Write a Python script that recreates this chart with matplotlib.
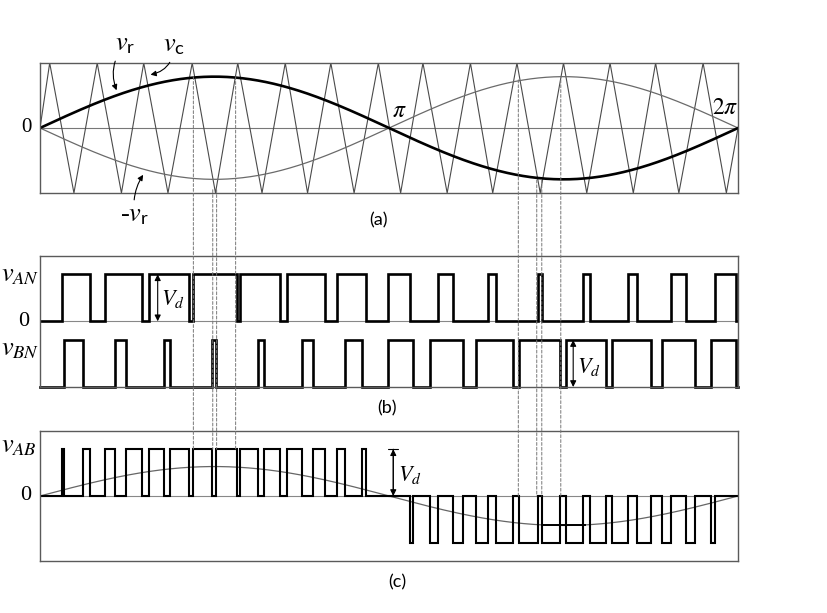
import numpy as np
import matplotlib
matplotlib.use('Agg')
import matplotlib.pyplot as plt
from matplotlib.patches import ConnectionPatch

plt.rcParams['mathtext.fontset'] = 'custom'
plt.rcParams['mathtext.rm'] = 'STIXGeneral'
plt.rcParams['mathtext.it'] = 'STIXGeneral:italic'
plt.rcParams['mathtext.sf'] = 'Lato'
plt.rcParams['font.family'] = ['Liberation Serif', 'DejaVu Sans']

# values, angles in degrees (0..360 = 0..2pi)
m_a = 0.79          # peak of v_r against the carrier peak, panel (a)
m_c = 0.63          # peak of the fundamental against Vd, panel (c)

carrier_peaks = [5, 29.5, 53.5, 78.5, 102, 126.5, 150, 174.5, 197.5, 222,
                 246, 270, 294, 317.5, 342]
carrier_valleys = [17.5, 42, 66, 90.5, 114.5, 138, 162, 186, 210, 233.5,
                   258, 282, 306, 329.5, 354]

# switching instants (rise, fall, rise, fall ...), both start low
van_edges = [11.2, 25.8, 33.5, 52.5, 56.2, 76.8, 78.8, 101.4, 103.2, 123.8,
             127.4, 147.0, 153.3, 168.1, 179.3, 190.8, 205.4, 212.9, 231.2, 235.2,
             256.7, 258.8, 280.2, 283.7, 303.1, 307.8, 325.4, 333.0, 348.1, 359.2]
vbn_edges = [12.5, 22.3, 38.7, 44.4, 64.1, 67.0, 88.6, 90.8, 112.3, 115.7,
             135.0, 140.6, 157.3, 166.2, 179.3, 192.2, 201.1, 218.3, 224.9, 244.1,
             247.1, 268.2, 271.1, 291.8, 294.9, 315.1, 320.7, 337.8, 346.1, 359.2]

# dashed guide lines: angle, start in (a), end in (c)
dash_deg = [79.1, 89.1, 91.1, 100.9, 246.7, 256.2, 258.8, 268.6]
dash_top = [0.79, -0.95, -0.95, 0.79, 0.74, -0.8, -0.8, 0.74]
dash_bot = [1, 1, 1, 1, 0, 0, 0, 0]

# short dark flat piece on the fundamental in (c)
flat_deg = [258.8, 281.1]
flat_val = -0.61

W, H = 827, 613


def steps(edges):
    xs = np.concatenate([[0], np.repeat(edges, 2), [360]])
    ys = np.repeat(np.arange(len(edges) + 1) % 2, 2)
    return xs, ys


def level(edges, t):
    return np.searchsorted(edges, t, side='right') % 2


def px(x, y):
    return x / W, 1 - y / H


fig = plt.figure(figsize=(8.27, 6.13), dpi=100)
fig.patch.set_facecolor('white')

ax_a = fig.add_axes([40 / W, 1 - 193 / H, 698 / W, 130 / H])
ax_b = fig.add_axes([40 / W, 1 - 387 / H, 698 / W, 131 / H])
ax_c = fig.add_axes([40 / W, 1 - 561 / H, 698 / W, 130 / H])
for ax in (ax_a, ax_b, ax_c):
    ax.set_xlim(0, 360)
    ax.set_xticks([])
    ax.set_yticks([])
    for s in ax.spines.values():
        s.set_color('#5a5a5a')
        s.set_linewidth(1.0)

# ---- (a) ----
theta = np.linspace(0, 360, 721)
vr = m_a * np.sin(np.radians(theta))
cx = np.concatenate([[0], np.sort(carrier_peaks + carrier_valleys), [360]])
cy = np.zeros(len(cx))
cy[1:-1] = [1 if v in carrier_peaks else -1 for v in cx[1:-1]]

ax_a.set_ylim(-1, 1)
ax_a.axhline(0, color='#777777', lw=0.8)
ax_a.plot(cx, cy, color='#4a4a4a', lw=0.8)
ax_a.plot(theta, -vr, color='#6a6a6a', lw=0.9)
ax_a.plot(theta, vr, color='black', lw=1.9)

arr = dict(arrowstyle='-|>', color='black', lw=0.8, mutation_scale=8, shrinkB=0)
ax_a.annotate(r'$v_{\mathsf{r}}$', xy=(39.5, 0.58), xytext=(43.8, 1.28),
              ha='center', va='center', fontsize=19, annotation_clip=False,
              arrowprops=dict(arr, connectionstyle='arc3,rad=0.3'))
ax_a.annotate(r'$v_{\mathsf{c}}$', xy=(57, 0.82), xytext=(69, 1.26),
              ha='center', va='center', fontsize=19, annotation_clip=False,
              arrowprops=dict(arr, connectionstyle='arc3,rad=-0.4'))
ax_a.annotate(r'-$v_{\mathsf{r}}$', xy=(53.2, -0.72), xytext=(49, -1.36),
              ha='center', va='center', fontsize=19, annotation_clip=False,
              arrowprops=dict(arr, connectionstyle='arc3,rad=-0.2'))
ax_a.text(185.2, 0.25, r'$\pi$', fontsize=17, ha='center', va='center')
ax_a.text(353.5, 0.3, r'$2\pi$', fontsize=17, ha='center', va='center')

# ---- (b) ----
an_base = 1.4
ax_b.set_ylim(0, 2.79)
ax_b.axhline(an_base, color='#888888', lw=0.8)
x, y = steps(van_edges)
ax_b.plot(x, y + an_base, color='black', lw=1.9, solid_joinstyle='miter')
x, y = steps(vbn_edges)
ax_b.plot(x, y, color='black', lw=1.9, solid_joinstyle='miter', clip_on=False)

vd = dict(arrowstyle='<|-|>', color='black', lw=0.8, mutation_scale=9, shrinkA=0, shrinkB=0)
ax_b.annotate('', xy=(60.7, an_base + 1), xytext=(60.7, an_base), arrowprops=vd)
ax_b.text(62.5, an_base + 0.47, r'$V_d$', fontsize=16, va='center')
ax_b.annotate('', xy=(275, 1), xytext=(275, 0), arrowprops=vd)
ax_b.text(277, 0.42, r'$V_d$', fontsize=16, va='center')

# ---- (c) ----
bp = np.unique(np.concatenate([[0], van_edges, vbn_edges, [360]]))
mid = (bp[:-1] + bp[1:]) / 2
vab = level(van_edges, mid) - level(vbn_edges, mid)
ax_c.set_ylim(-1.39, 1.39)
ax_c.axhline(0, color='#888888', lw=0.8)
ax_c.plot(theta, m_c * np.sin(np.radians(theta)), color='#666666', lw=0.9)
ax_c.plot(flat_deg, [flat_val, flat_val], color='black', lw=1.4)
ax_c.plot(np.repeat(bp, 2)[1:-1], np.repeat(vab, 2), color='black', lw=1.5,
          solid_joinstyle='miter')
ax_c.annotate('', xy=(182.2, 1), xytext=(182.2, 0), arrowprops=vd)
ax_c.annotate('', xy=(182.2, 1), xytext=(182.2, 0),
              arrowprops=dict(arrowstyle='|-|,widthA=0.35,widthB=0.35', color='black', lw=0.8,
                              shrinkA=0, shrinkB=0))
ax_c.text(184.5, 0.45, r'$V_d$', fontsize=16, va='center')

# dashed guide lines running from (a) down into (c)
for d, t, b in zip(dash_deg, dash_top, dash_bot):
    cp = ConnectionPatch(xyA=(d, t), coordsA=ax_a.transData, xyB=(d, b), coordsB=ax_c.transData,
                         color='#777777', lw=0.7, ls=(0, (3, 2)))
    fig.add_artist(cp)

# left hand labels
fig.text(*px(26, 128), '0', fontsize=15, ha='center', va='center')
fig.text(*px(1, 276), r'$v_{AN}$', fontsize=19, ha='left', va='center')
fig.text(*px(24, 322), '0', fontsize=16, ha='center', va='center')
fig.text(*px(1, 350), r'$v_{BN}$', fontsize=19, ha='left', va='center')
fig.text(*px(1, 447), r'$v_{AB}$', fontsize=19, ha='left', va='center')
fig.text(*px(26, 496), '0', fontsize=16, ha='center', va='center')

for lab, xx, yy in [('(a)', 378, 220), ('(b)', 387, 408), ('(c)', 397, 582)]:
    fig.text(*px(xx, yy), lab, fontsize=13, ha='center', va='center', family=['Lato', 'DejaVu Sans'])

fig.savefig('out.png', dpi=100, facecolor='white')
